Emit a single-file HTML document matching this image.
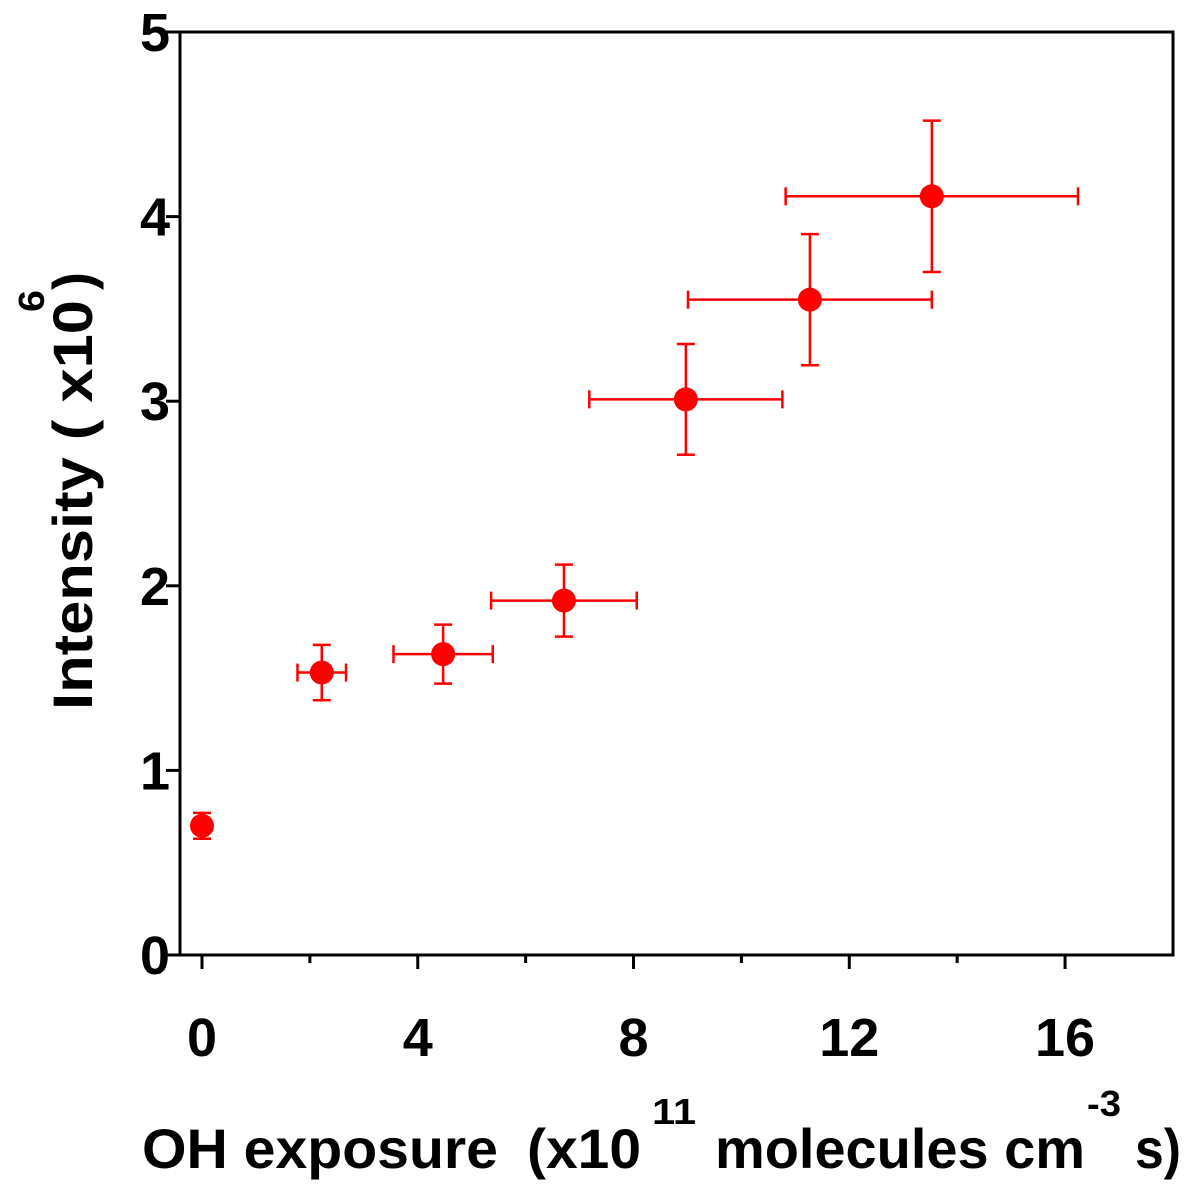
<!DOCTYPE html>
<html><head><meta charset="utf-8"><style>
body{margin:0;background:#fff;}
svg text{font-family:"Liberation Sans",sans-serif;font-weight:bold;fill:#000;}
</style></head><body>
<svg id="chart" width="1194" height="1194" viewBox="0 0 1194 1194">
<rect x="0" y="0" width="1194" height="1194" fill="#fff"/>
<g id="axes"></g>
<g id="marks"></g>
<g>
<text transform="translate(92,710) rotate(-90)" font-size="56" textLength="410" lengthAdjust="spacingAndGlyphs">Intensity ( x10</text>
<text transform="translate(44,312) rotate(-90)" font-size="36" textLength="22" lengthAdjust="spacingAndGlyphs">6</text>
<text transform="translate(92,290) rotate(-90)" font-size="56" textLength="18" lengthAdjust="spacingAndGlyphs">)</text>
</g>
<g>
<text x="142" y="1168" font-size="56" textLength="356" lengthAdjust="spacingAndGlyphs">OH exposure</text>
<text x="527" y="1168" font-size="56" textLength="114" lengthAdjust="spacingAndGlyphs">(x10</text>
<text x="652" y="1124" font-size="36" textLength="44" lengthAdjust="spacingAndGlyphs">11</text>
<text x="715" y="1168" font-size="56" textLength="370" lengthAdjust="spacingAndGlyphs">molecules cm</text>
<text x="1087" y="1116" font-size="36" textLength="34" lengthAdjust="spacingAndGlyphs">-3</text>
<text x="1135" y="1168" font-size="56" textLength="46" lengthAdjust="spacingAndGlyphs">s)</text>
</g>
</svg>
<script>
const xs=[0,2.22,4.47,6.71,8.97,11.27,13.53];
const ys=[0.70,1.53,1.63,1.92,3.01,3.55,4.11];
const yerr=[0.07,0.15,0.16,0.195,0.30,0.355,0.41];
const xerr=[0,0.45,0.92,1.35,1.79,2.26,2.71];
const xTicks=[0,4,8,12,16];
const xMinor=[2,6,10,14];
const yTicks=[0,1,2,3,4,5];
const NS="http://www.w3.org/2000/svg";
const X=v=>202+v*53.94, Y=v=>955-v*184.6;
function mk(t,a,p){const e=document.createElementNS(NS,t);for(const k in a)e.setAttribute(k,a[k]);p.appendChild(e);return e;}
const ax=document.getElementById('axes'), mg=document.getElementById('marks');
const frame=mk('rect',{x:180,y:32,width:993,height:923,fill:'none',stroke:'#000','stroke-width':3},ax);


xTicks.forEach(v=>{
 const l=mk('line',{x1:X(v),x2:X(v),y1:955,y2:969,stroke:'#000','stroke-width':3},ax);
 
 
 const t=mk('text',{x:X(v),y:1056,'text-anchor':'middle','font-size':54},ax);t.textContent=v;
 
 
});
xMinor.forEach(v=>{
 const l=mk('line',{x1:X(v),x2:X(v),y1:955,y2:963,stroke:'#000','stroke-width':3},ax);
 
 
});
yTicks.forEach(v=>{
 const l=mk('line',{x1:166,x2:180,y1:Y(v),y2:Y(v),stroke:'#000','stroke-width':3},ax);
 
 
 const t=mk('text',{x:170,y:Y(v)+19,'text-anchor':'end','font-size':54},ax);t.textContent=v;
 
 
});
xs.forEach((xv,i)=>{
 const g=mk('g',{stroke:'#f00','stroke-width':2.5},mg);
 
 
 const cx=X(xv),cy=Y(ys[i]),y1=Y(ys[i]+yerr[i]),y2=Y(ys[i]-yerr[i]);
 mk('line',{x1:cx,x2:cx,y1:y1,y2:y2},g);
 mk('line',{x1:cx-9,x2:cx+9,y1:y1,y2:y1},g);
 mk('line',{x1:cx-9,x2:cx+9,y1:y2,y2:y2},g);
 if(xerr[i]>0){const a=X(xv-xerr[i]),b=X(xv+xerr[i]);
  mk('line',{x1:a,x2:b,y1:cy,y2:cy},g);
  mk('line',{x1:a,x2:a,y1:cy-9,y2:cy+9},g);
  mk('line',{x1:b,x2:b,y1:cy-9,y2:cy+9},g);}
 mk('circle',{cx:cx,cy:cy,r:12,fill:'#f00',stroke:'none'},g);
});
</script>
</body></html>
